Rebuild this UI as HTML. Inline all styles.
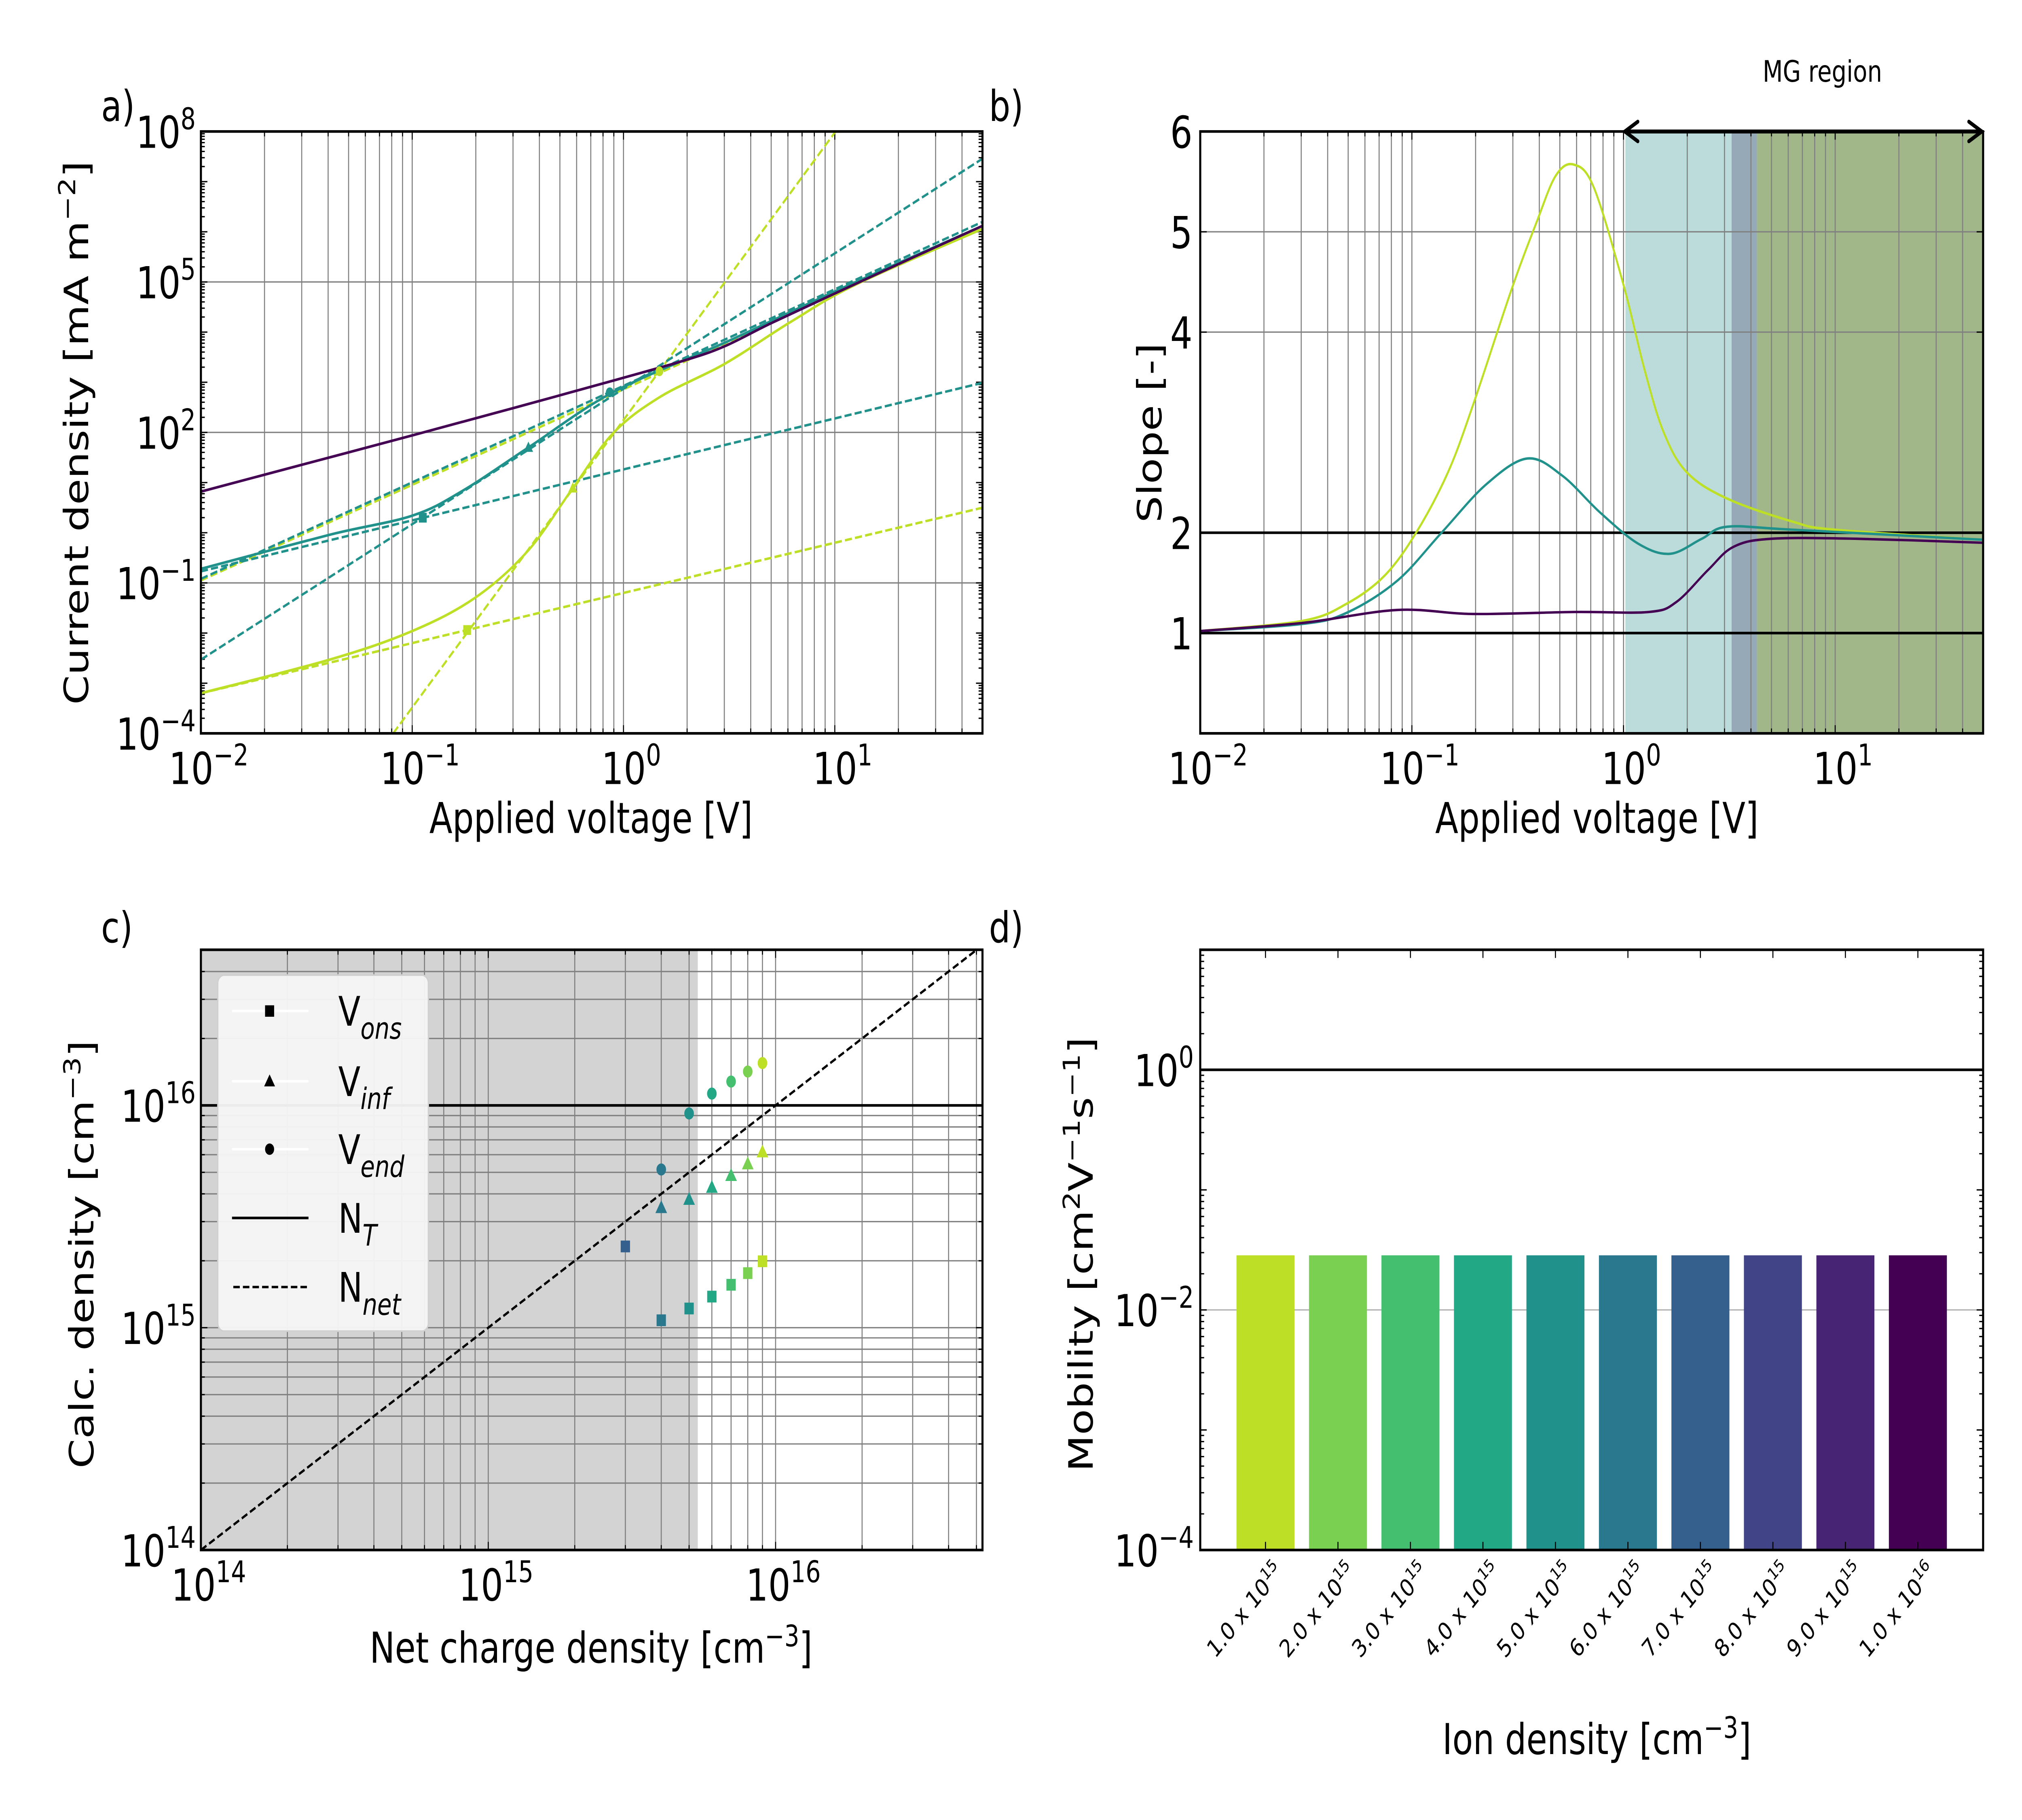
<!DOCTYPE html>
<html><head><meta charset="utf-8"><style>
html,body{margin:0;padding:0;background:#fff;overflow:hidden;width:100%;height:100%;}
svg{display:block;width:100vw;height:100vh;font-family:"DejaVu Sans","Liberation Sans",sans-serif;}
</style></head><body>
<svg id="fig" xmlns="http://www.w3.org/2000/svg" viewBox="0 0 1560 1114.3" preserveAspectRatio="none">
<defs>
<clipPath id="clipA"><rect x="155" y="80.5" width="603" height="368.5"/></clipPath>
<clipPath id="clipB"><rect x="926" y="80.5" width="604" height="368.5"/></clipPath>
<clipPath id="clipC"><rect x="155" y="581.5" width="603" height="367.5"/></clipPath>
<clipPath id="clipD"><rect x="926" y="581.5" width="604" height="367.5"/></clipPath>
</defs>
<g id="gA"></g>
<g id="gB"></g>
<g id="gC"></g>
<g id="gD"></g>
<text x="78" y="74" font-size="26">a)</text>
<text x="763" y="74" font-size="26">b)</text>
<text x="78" y="577" font-size="26">c)</text>
<text x="763" y="577" font-size="26">d)</text>
<text x="456" y="510" font-size="26" text-anchor="middle">Applied voltage [V]</text>
<text x="1232" y="510" font-size="26" text-anchor="middle">Applied voltage [V]</text>
<text x="456" y="1018" font-size="26" text-anchor="middle">Net charge density [cm<tspan dy="-10" font-size="18">−3</tspan><tspan dy="10">]</tspan></text>
<text x="1232" y="1074" font-size="26" text-anchor="middle">Ion density [cm<tspan dy="-10" font-size="18">−3</tspan><tspan dy="10">]</tspan></text>
<text transform="translate(68,265) rotate(-90)" font-size="26" text-anchor="middle">Current density [mA m<tspan dy="-10" font-size="18">−2</tspan><tspan dy="10">]</tspan></text>
<text transform="translate(896,265) rotate(-90)" font-size="26" text-anchor="middle">Slope [-]</text>
<text transform="translate(72,768) rotate(-90)" font-size="26" text-anchor="middle">Calc. density [cm<tspan dy="-10" font-size="18">−3</tspan><tspan dy="10">]</tspan></text>
<text transform="translate(843,768) rotate(-90)" font-size="26" text-anchor="middle">Mobility [cm<tspan dy="-10" font-size="18">2</tspan><tspan dy="10">V</tspan><tspan dy="-10" font-size="18">−1</tspan><tspan dy="10">s</tspan><tspan dy="-10" font-size="18">−1</tspan><tspan dy="10">]</tspan></text>
<text x="1406" y="50" font-size="18" text-anchor="middle">MG region</text>
</svg>
<script>
// ---------- Panel a data (log10 V, log10 J) ----------
const aPurpleLogV = [-2, -1.5, -1, -0.5, 0, 0.3, 0.48, 0.7, 1, 1.35, 1.7];
const aPurpleLogJ = [0.82, 1.38, 1.94, 2.51, 3.09, 3.45, 3.72, 4.18, 4.77, 5.45, 6.12];
const aTealLogV = [-2, -1.39, -1, -0.76, -0.45, -0.05, 0.48, 0.79, 1.1, 1.7];
const aTealLogJ = [-0.72, -0.04, 0.34, 0.84, 1.70, 2.80, 3.79, 4.4, 5.0, 6.12];
const aYellowLogV = [-2, -1.39, -1, -0.70, -0.45, -0.24, -0.05, 0.17, 0.48, 0.79, 1.1, 1.7];
const aYellowLogJ = [-3.2, -2.53, -1.96, -1.29, -0.35, 0.89, 1.98, 2.70, 3.37, 4.2, 4.95, 6.06];
// fitted dashed lines: [logV start, logJ start, logV end, logJ end]
const aTealFits = [[-2, -0.77, 1.7, 2.99], [-2, -2.53, 1.7, 7.46], [-2, -0.92, 1.7, 6.2]];
const aYellowFits = [[-2, -3.2, 1.7, 0.5], [-1.09, -4.0, 1.7, 11.99], [-2, -0.95, 1.7, 6.1]];
const aTealMarkLogV = [-0.95, -0.45, -0.065];
const aTealMarkLogJ = [0.30, 1.70, 2.80];
const aYellowMarkLogV = [-0.74, -0.24, 0.17];
const aYellowMarkLogJ = [-1.94, 0.89, 3.22];
const aMarkShapes = ['square', 'triangle', 'circle'];
const aXTicks = [-2, -1, 0, 1];
const aYTicks = [-4, -1, 2, 5, 8];

// ---------- Panel b data (log10 V, slope) ----------
const bYellowLogV = [-2, -1.52, -1.31, -1.13, -0.98, -0.83, -0.71, -0.53, -0.41, -0.32, -0.235, -0.14, 0.0, 0.10, 0.19, 0.30, 0.49, 0.80, 1.0, 1.699];
const bYellowSlope = [1.02, 1.12, 1.29, 1.57, 2.0, 2.6, 3.28, 4.42, 5.10, 5.56, 5.67, 5.44, 4.47, 3.62, 3.0, 2.6, 2.34, 2.11, 2.03, 1.93];
const bTealLogV = [-2, -1.52, -1.31, -1.07, -0.86, -0.65, -0.455, -0.29, -0.11, 0.07, 0.22, 0.37, 0.49, 0.80, 1.699];
const bTealSlope = [1.02, 1.09, 1.2, 1.52, 2.0, 2.48, 2.74, 2.57, 2.2, 1.89, 1.79, 1.94, 2.06, 2.03, 1.93];
const bPurpleLogV = [-2, -1.52, -1.07, -0.71, -0.23, 0.12, 0.25, 0.40, 0.52, 0.70, 1.1, 1.699];
const bPurpleSlope = [1.02, 1.1, 1.23, 1.19, 1.21, 1.21, 1.31, 1.63, 1.86, 1.94, 1.94, 1.90];
const bRegionStart = [1.02, 3.24, 4.27];   // V
const bRegionEnd = [3.24, 4.27, 50];
const bRegionColors = ['#bcdcdb', '#95a9b6', '#a1b78a'];
const bRefLines = [1, 2];
const bYTicks = [1, 2, 4, 5, 6];
const bMgStart = 1.0, bMgEnd = 50;

// ---------- Panel c data ----------
const cNet = [3e15, 4e15, 5e15, 6e15, 7e15, 8e15, 9e15];
const cVons = [2.32e15, 1.08e15, 1.22e15, 1.38e15, 1.56e15, 1.76e15, 1.99e15];
const cInfNet = [4e15, 5e15, 6e15, 7e15, 8e15, 9e15];
const cVinf = [3.47e15, 3.78e15, 4.28e15, 4.84e15, 5.46e15, 6.18e15];
const cEndNet = [4e15, 5e15, 6e15, 7e15, 8e15, 9e15];
const cVend = [5.15e15, 9.2e15, 1.13e16, 1.28e16, 1.42e16, 1.55e16];
const cNT = 1e16;
const cShadeEnd = 5.36e15;
const cTicks = [14, 15, 16];

// ---------- Panel d data ----------
const dMant = ['1.0', '2.0', '3.0', '4.0', '5.0', '6.0', '7.0', '8.0', '9.0', '1.0'];
const dExp = ['15', '15', '15', '15', '15', '15', '15', '15', '15', '16'];
const dMobility = [0.0285, 0.0285, 0.0285, 0.0285, 0.0285, 0.0285, 0.0285, 0.0285, 0.0285, 0.0285];
const dRef = 1.0;
const dYTicks = [-4, -2, 0];

const viridis = {3e15:'#355f8d',4e15:'#2a788e',5e15:'#21918c',6e15:'#22a884',7e15:'#44bf70',8e15:'#7ad151',9e15:'#bddf26'};
const barColors = ['#bddf26','#7ad151','#44bf70','#22a884','#21918c','#2a788e','#355f8d','#414487','#482475','#440154'];

const NS = 'http://www.w3.org/2000/svg';
function mk(tag, attrs, parent){ const e=document.createElementNS(NS,tag); for(const k in attrs) e.setAttribute(k,attrs[k]); parent.appendChild(e); return e; }
function lin(d0,d1,p0,p1){ return v => p0 + (v-d0)/(d1-d0)*(p1-p0); }

const A = {x0:155,x1:758,y0:80.5,y1:449};
const B = {x0:926,x1:1530,y0:80.5,y1:449};
const C = {x0:155,x1:758,y0:581.5,y1:949};
const D = {x0:926,x1:1530,y0:581.5,y1:949};
const axX = lin(-2, Math.log10(50), A.x0, A.x1);
const ayY = lin(-4, 8, A.y1, A.y0);
const bxX = lin(-2, Math.log10(50), B.x0, B.x1);
const byY = lin(0, 6, B.y1, B.y0);
const cxX = lin(14, 16.72, C.x0, C.x1);
const cyY = lin(14, 16.70, C.y1, C.y0);
const dxX = lin(-0.9, 9.9, D.x0, D.x1);
const dyY = lin(-4, 1, D.y1, D.y0);

function smoothPath(xs, ys){
  let d = 'M'+xs[0].toFixed(2)+','+ys[0].toFixed(2);
  for(let i=0;i<xs.length-1;i++){
    const x0=xs[Math.max(0,i-1)], y0=ys[Math.max(0,i-1)];
    const x1=xs[i], y1=ys[i], x2=xs[i+1], y2=ys[i+1];
    const x3=xs[Math.min(xs.length-1,i+2)], y3=ys[Math.min(xs.length-1,i+2)];
    const c1x=x1+(x2-x0)/6, c1y=y1+(y2-y0)/6, c2x=x2-(x3-x1)/6, c2y=y2-(y3-y1)/6;
    d += ' C'+c1x.toFixed(2)+','+c1y.toFixed(2)+' '+c2x.toFixed(2)+','+c2y.toFixed(2)+' '+x2.toFixed(2)+','+y2.toFixed(2);
  }
  return d;
}
function pow10Label(parent, x, y, exp, anchor, size, name){
  const t = mk('text',{x:x,y:y,'font-size':size,'text-anchor':anchor},parent);
  
  
  const a = mk('tspan',{},t); a.textContent='10';
  const b = mk('tspan',{dy:-size*0.42,'font-size':size*0.68},t); b.textContent=String(exp).replace('-','−');
  return t;
}
function logGridX(g, ax, lo, hi, xf, name){
  for(let k=Math.floor(lo);k<=hi;k++){ for(let m=1;m<=9;m++){ const v=k+Math.log10(m); if(v<lo-1e-9||v>hi+1e-9) continue;
    const x=xf(v); const l=mk('line',{x1:x,x2:x,y1:ax.y0,y2:ax.y1,stroke:'#808080','stroke-width':0.8},g);
    
    
    const tl = m===1?5:3;
    const t1=mk('line',{x1:x,x2:x,y1:ax.y1,y2:ax.y1-tl,stroke:'#000','stroke-width':0.8},g);
    
    
    const t2=mk('line',{x1:x,x2:x,y1:ax.y0,y2:ax.y0+tl,stroke:'#000','stroke-width':0.8},g);
    
    
  }}
}
function logGridY(g, ax, lo, hi, yf, name, majorsOnly){
  for(let k=Math.floor(lo);k<=hi;k++){ for(let m=1;m<=9;m++){ const v=k+Math.log10(m); if(v<lo-1e-9||v>hi+1e-9) continue;
    const y=yf(v);
    if(!majorsOnly || m===1){
      if(majorsOnly && !majorsOnly.includes(k)) { } else {
      const l=mk('line',{x1:ax.x0,x2:ax.x1,y1:y,y2:y,stroke:'#808080','stroke-width':0.8},g);
      
       }
    }
    const tl = m===1?5:3;
    const t1=mk('line',{x1:ax.x0,x2:ax.x0+tl,y1:y,y2:y,stroke:'#000','stroke-width':0.8},g);
    
    
    const t2=mk('line',{x1:ax.x1,x2:ax.x1-tl,y1:y,y2:y,stroke:'#000','stroke-width':0.8},g);
    
    
  }}
}
function frame(g, ax, name){
  const r=mk('rect',{x:ax.x0,y:ax.y0,width:ax.x1-ax.x0,height:ax.y1-ax.y0,fill:'none',stroke:'#000','stroke-width':1.6},g);
  
  
}
function marker(g, shape, x, y, s, color, name){
  let e;
  if(shape==='square') e=mk('rect',{x:x-s/2,y:y-s/2,width:s,height:s,fill:color},g);
  else if(shape==='triangle') e=mk('polygon',{points:(x)+','+(y-s*0.6)+' '+(x-s*0.6)+','+(y+s*0.45)+' '+(x+s*0.6)+','+(y+s*0.45),fill:color},g);
  else e=mk('circle',{cx:x,cy:y,r:s/2,fill:color},g);
  
  
  return e;
}

// ================= Panel A =================
(function(){
  const g=document.getElementById('gA');
  logGridX(g, A, -2, Math.log10(50), axX, 'panel-a-x-gridline');
  logGridY(g, A, -4, 8, ayY, 'panel-a-y-gridline', [-1,2,5]);
  const pg=mk('g',{'clip-path':'url(#clipA)'},g);
  
  
  function fits(arr,color,nm){ arr.forEach(f=>{ const l=mk('line',{x1:axX(f[0]),y1:ayY(f[1]),x2:axX(f[2]),y2:ayY(f[3]),stroke:color,'stroke-width':1.5,'stroke-dasharray':'5.5,2.4'},pg);
    
     }); }
  fits(aYellowFits,'#bddf26','yellow-fit-line');
  fits(aTealFits,'#21918c','teal-fit-line');
  const curves=[[aYellowLogV,aYellowLogJ,'#bddf26','yellow-jv-curve'],[aTealLogV,aTealLogJ,'#21918c','teal-jv-curve'],[aPurpleLogV,aPurpleLogJ,'#440154','purple-jv-curve']];
  curves.forEach(c=>{ const p=mk('path',{d:smoothPath(c[0].map(axX),c[1].map(ayY)),fill:'none',stroke:c[2],'stroke-width':1.6},pg);
    
     });
  aTealMarkLogV.forEach((v,i)=>marker(pg,aMarkShapes[i],axX(v),ayY(aTealMarkLogJ[i]),6,'#21918c','teal-voltage-marker'));
  aYellowMarkLogV.forEach((v,i)=>marker(pg,aMarkShapes[i],axX(v),ayY(aYellowMarkLogJ[i]),6,'#bddf26','yellow-voltage-marker'));
  frame(g,A,'panel-a-frame');
  aXTicks.forEach(t=>pow10Label(g,axX(t)+6,A.y1+31,t,'middle',27,'panel-a-x-tick-label'));
  aYTicks.forEach(t=>pow10Label(g,A.x0-4,ayY(t)+10,t,'end',27,'panel-a-y-tick-label'));
})();

// ================= Panel B =================
(function(){
  const g=document.getElementById('gB');
  bRegionStart.forEach((s,i)=>{ const x0=bxX(Math.log10(s)), x1=bxX(Math.log10(bRegionEnd[i]));
    const r=mk('rect',{x:x0,y:B.y0,width:x1-x0,height:B.y1-B.y0,fill:bRegionColors[i]},g);
    
     });
  logGridX(g, B, -2, Math.log10(50), bxX, 'panel-b-x-gridline');
  [4,5].forEach(v=>{ const l=mk('line',{x1:B.x0,x2:B.x1,y1:byY(v),y2:byY(v),stroke:'#808080','stroke-width':0.8},g);
    
     });
  bYTicks.forEach(v=>{ [[B.x0,B.x0+5],[B.x1,B.x1-5]].forEach(p=>{ const t=mk('line',{x1:p[0],x2:p[1],y1:byY(v),y2:byY(v),stroke:'#000','stroke-width':0.8},g);
    
     }); });
  bRefLines.forEach(v=>{ const l=mk('line',{x1:B.x0,x2:B.x1,y1:byY(v),y2:byY(v),stroke:'#000','stroke-width':1.6},g);
    
     });
  const pg=mk('g',{'clip-path':'url(#clipB)'},g);
  
  
  [[bYellowLogV,bYellowSlope,'#bddf26','yellow-slope-curve'],[bTealLogV,bTealSlope,'#21918c','teal-slope-curve'],[bPurpleLogV,bPurpleSlope,'#440154','purple-slope-curve']].forEach(c=>{
    const p=mk('path',{d:smoothPath(c[0].map(bxX),c[1].map(byY)),fill:'none',stroke:c[2],'stroke-width':1.5},pg);
    
     });
  frame(g,B,'panel-b-frame');
  aXTicks.forEach(t=>pow10Label(g,bxX(t)+6,B.y1+31,t,'middle',27,'panel-b-x-tick-label'));
  bYTicks.forEach(v=>{ const t=mk('text',{x:B.x0-6,y:byY(v)+10,'font-size':27,'text-anchor':'end'},g); t.textContent=v;
    
     });
  const ax0=bxX(Math.log10(bMgStart)), ax1=bxX(Math.log10(bMgEnd)), ay=B.y0;
  const ar=mk('g',{stroke:'#000','stroke-width':2.4,fill:'none','stroke-linecap':'round'},g);
  
  
  mk('line',{x1:ax0+1,x2:ax1-1,y1:ay,y2:ay},ar);
  mk('polyline',{points:(ax0+11)+','+(ay-6)+' '+(ax0+1)+','+ay+' '+(ax0+11)+','+(ay+6)},ar);
  mk('polyline',{points:(ax1-11)+','+(ay-6)+' '+(ax1-1)+','+ay+' '+(ax1-11)+','+(ay+6)},ar);
})();

// ================= Panel C =================
(function(){
  const g=document.getElementById('gC');
  const sx=cxX(Math.log10(cShadeEnd));
  const sh=mk('rect',{x:C.x0,y:C.y0,width:sx-C.x0,height:C.y1-C.y0,fill:'#d3d3d3'},g);
  
  
  logGridX(g, C, 14, 16.72, cxX, 'panel-c-x-gridline');
  logGridY(g, C, 14, 16.70, cyY, 'panel-c-y-gridline', null);
  const pg=mk('g',{'clip-path':'url(#clipC)'},g);
  
  
  const nt=mk('line',{x1:C.x0,x2:C.x1,y1:cyY(Math.log10(cNT)),y2:cyY(Math.log10(cNT)),stroke:'#000','stroke-width':1.6},pg);
  
  
  const nn=mk('line',{x1:cxX(14),y1:cyY(14),x2:cxX(16.72),y2:cyY(16.72),stroke:'#000','stroke-width':1.5,'stroke-dasharray':'5,2.4'},pg);
  
  
  cNet.forEach((n,i)=>marker(pg,'square',cxX(Math.log10(n)),cyY(Math.log10(cVons[i])),7.2,viridis[n],'vons-marker'));
  cInfNet.forEach((n,i)=>marker(pg,'triangle',cxX(Math.log10(n)),cyY(Math.log10(cVinf[i])),7.5,viridis[n],'vinf-marker'));
  cEndNet.forEach((n,i)=>{ const e=mk('ellipse',{cx:cxX(Math.log10(n)),cy:cyY(Math.log10(cVend[i])),rx:3.7,ry:3.7,fill:viridis[n]},pg);
    
     });
  frame(g,C,'panel-c-frame');
  cTicks.forEach(t=>pow10Label(g,cxX(t)+6,C.y1+31,t,'middle',27,'panel-c-x-tick-label'));
  cTicks.forEach(t=>pow10Label(g,C.x0-4,cyY(t)+10,t,'end',27,'panel-c-y-tick-label'));
  // legend
  const lg=mk('g',{},g);
  
  
  mk('rect',{x:168,y:597,width:162.5,height:218,rx:5,fill:'#f5f5f5','fill-opacity':0.96,stroke:'#d0d0d0','stroke-width':1},lg);
  const rows=[619,662,703.6,745.7,788];
  const lab=[['V','ons'],['V','inf'],['V','end'],['N','T'],['N','net']];
  rows.forEach((y,i)=>{
    const en=mk('g',{},lg);
    
    
    if(i<3){ mk('line',{x1:179,x2:238,y1:y,y2:y,stroke:'#fff','stroke-width':1.5},en);
      marker(en,['square','triangle','circle'][i],208,y,7,'#000','legend-marker'); }
    else if(i===3) mk('line',{x1:179,x2:238,y1:y,y2:y,stroke:'#000','stroke-width':1.6},en);
    else mk('line',{x1:180,x2:238,y1:y,y2:y,stroke:'#000','stroke-width':1.5,'stroke-dasharray':'5,2.4'},en);
    const t=mk('text',{x:261,y:y+9,'font-size':25},en);
    const a=mk('tspan',{},t); a.textContent=lab[i][0];
    const b=mk('tspan',{dy:8,'font-size':18,'font-style':'italic'},t); b.textContent=lab[i][1];
  });
})();

// ================= Panel D =================
(function(){
  const g=document.getElementById('gD');
  const gl=mk('line',{x1:D.x0,x2:D.x1,y1:dyY(-2),y2:dyY(-2),stroke:'#b0b0b0','stroke-width':0.8},g);
  
  
  dMobility.forEach((m,i)=>{ const x=dxX(i), yt=dyY(Math.log10(m));
    const r=mk('rect',{x:x-0.4*55.93,y:yt,width:0.8*55.93,height:D.y1-yt,fill:barColors[i]},g);
    
    
    [[D.y1,D.y1-5],[D.y0,D.y0+5]].forEach(p=>{ const t=mk('line',{x1:x,x2:x,y1:p[0],y2:p[1],stroke:'#000','stroke-width':0.8},g);
      
       });
    const tx=mk('text',{transform:'translate('+(x+14)+','+(D.y1+14)+') rotate(-45)','font-size':15,'text-anchor':'end'},g);
    
    
    const a=mk('tspan',{},tx); a.textContent=dMant[i]+' x 10';
    const b=mk('tspan',{dy:-6,'font-size':10.5},tx); b.textContent=dExp[i];
  });
  logGridY(g, D, -4, 1, dyY, 'panel-d-minor', [99]);
  const rl=mk('line',{x1:D.x0,x2:D.x1,y1:dyY(Math.log10(dRef)),y2:dyY(Math.log10(dRef)),stroke:'#000','stroke-width':1.6},g);
  
  
  frame(g,D,'panel-d-frame');
  dYTicks.forEach(t=>pow10Label(g,D.x0-5,dyY(t)+10,t,'end',27,'panel-d-y-tick-label'));
})();
</script>
</body></html>
